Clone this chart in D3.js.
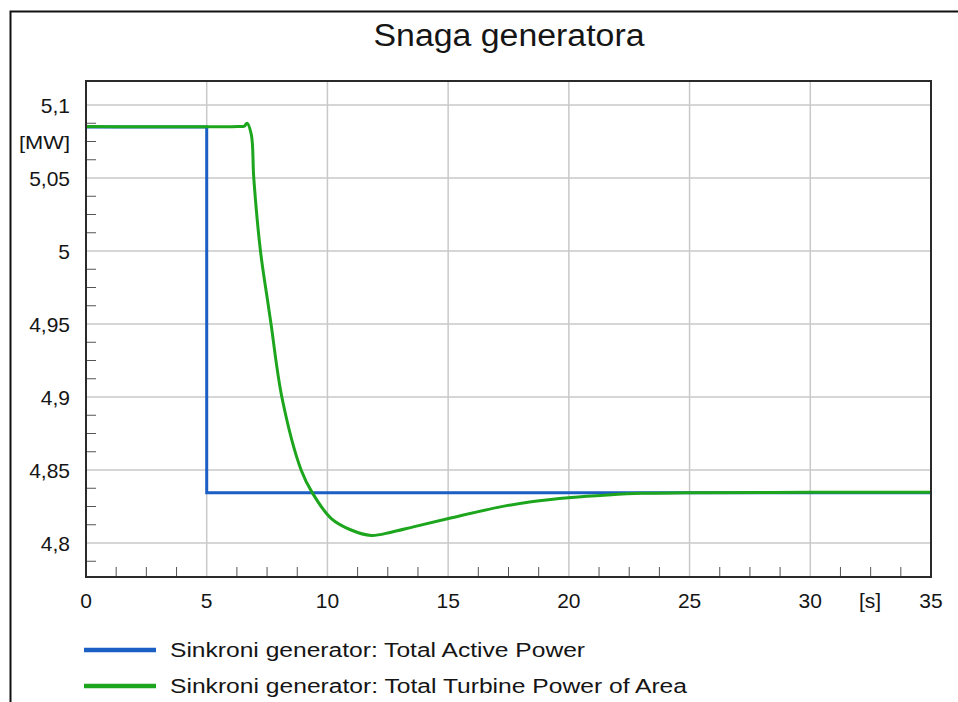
<!DOCTYPE html>
<html>
<head>
<meta charset="utf-8">
<script src="https://cdn.jsdelivr.net/npm/d3@7"></script>
<style>
  html, body { margin: 0; padding: 0; background: #fff; }
  svg { display: block; }
  text { font-family: "Liberation Sans", Arial, sans-serif; fill: #151515; }
</style>
</head>
<body>
<svg id="chart" width="958" height="702"></svg>
<script>
// Time axis [s]
const xMajorTicks = [0, 5, 10, 15, 20, 25, 30, 35];
// Power axis [MW]
const yMajorTicks = [4.8, 4.85, 4.9, 4.95, 5, 5.05, 5.1];
const yTickLabels = ["4,8", "4,85", "4,9", "4,95", "5", "5,05", "5,1"];

// Sinkroni generator: Total Active Power (step at t = 5 s)
const activeT = [0, 5, 5, 35];
const activeP = [5.085, 5.085, 4.8345, 4.8345];

// Sinkroni generator: Total Turbine Power of Area
const turbineT = [0, 6.3, 6.56, 6.67, 6.85, 6.95, 7.23, 7.53, 7.67, 8.12, 8.91, 9.37,
                  10.15, 10.98, 11.81, 12.64, 13.6, 15.06, 17.06, 18.44, 20.1, 21.62,
                  23.0, 25.08, 30, 35];
const turbineP = [5.0853, 5.0853, 5.0856, 5.0875, 5.0795, 5.0498, 4.9995, 4.9651, 4.9493,
                  4.8993, 4.85, 4.8345, 4.8169, 4.8089, 4.8052, 4.8074, 4.8112, 4.8169,
                  4.8244, 4.8283, 4.8312, 4.8329, 4.834, 4.8345, 4.8347, 4.8348];

const seriesNames = ["Sinkroni generator: Total Active Power",
                     "Sinkroni generator: Total Turbine Power of Area"];
const seriesColors = ["#1b5ec4", "#1da61d"];

const svg = d3.select("#chart");
const plot = { left: 86, top: 81, right: 931, bottom: 577 };

const x = d3.scaleLinear().domain([0, 35]).range([plot.left, plot.right]);
const y = d3.scaleLinear().domain([4.8, 5.1]).range([543, 105]);

// outer frame
svg.append("rect")
  .attr("x", 10.5).attr("y", 11.5).attr("width", 970).attr("height", 720)
  .attr("fill", "none").attr("stroke", "#111").attr("stroke-width", 2);

// title
svg.append("text")
  .attr("x", 509).attr("y", 46)
  .attr("text-anchor", "middle")
  .attr("font-size", 31)
  .attr("textLength", 271).attr("lengthAdjust", "spacingAndGlyphs")
  .text("Snaga generatora");

// grid
const grid = svg.append("g").attr("stroke", "#c9c9c9").attr("stroke-width", 1.5);
grid.selectAll("line.v").data(xMajorTicks.filter(d => d > 0 && d < 35)).join("line")
  .attr("x1", d => x(d)).attr("x2", d => x(d))
  .attr("y1", plot.top).attr("y2", plot.bottom);
grid.selectAll("line.h").data(yMajorTicks).join("line")
  .attr("x1", plot.left).attr("x2", plot.right)
  .attr("y1", d => y(d)).attr("y2", d => y(d));

// minor ticks on the inside of the left and bottom axes
const xMinor = d3.range(0, 35.001, 1.25).filter(d => d > 0 && d < 35 && Math.abs(d / 5 - Math.round(d / 5)) > 1e-6);
const yMinor = d3.range(4.775, 5.1, 0.0125)
  .filter(d => y(d) > plot.top && y(d) < plot.bottom && Math.abs(d / 0.05 - Math.round(d / 0.05)) > 1e-6);
const ticks = svg.append("g").attr("stroke", "#555").attr("stroke-width", 1);
ticks.selectAll("line.xm").data(xMinor).join("line")
  .attr("x1", d => x(d)).attr("x2", d => x(d))
  .attr("y1", plot.bottom).attr("y2", plot.bottom - 10);
ticks.selectAll("line.ym").data(yMinor).join("line")
  .attr("x1", plot.left).attr("x2", plot.left + 10)
  .attr("y1", d => y(d)).attr("y2", d => y(d));

// series
const line = d3.line().x(d => x(d[0])).y(d => y(d[1]));
svg.append("path")
  .datum(d3.zip(activeT, activeP))
  .attr("d", line.curve(d3.curveLinear))
  .attr("fill", "none").attr("stroke", seriesColors[0]).attr("stroke-width", 3);
svg.append("path")
  .datum(d3.zip(turbineT, turbineP))
  .attr("d", line.curve(d3.curveCatmullRom.alpha(0.5)))
  .attr("fill", "none").attr("stroke", seriesColors[1]).attr("stroke-width", 3)
  .attr("stroke-linejoin", "round");

// plot border
svg.append("rect")
  .attr("x", plot.left).attr("y", plot.top)
  .attr("width", plot.right - plot.left).attr("height", plot.bottom - plot.top)
  .attr("fill", "none").attr("stroke", "#2a2a2a").attr("stroke-width", 2);

// axis labels
svg.append("g").selectAll("text").data(xMajorTicks).join("text")
  .attr("x", d => x(d)).attr("y", 608)
  .attr("text-anchor", "middle").attr("font-size", 21)
  .text(d => d);
svg.append("text").attr("x", 870).attr("y", 608)
  .attr("text-anchor", "middle").attr("font-size", 21).text("[s]");

svg.append("g").selectAll("text").data(yMajorTicks).join("text")
  .attr("x", 70).attr("y", d => y(d) + 7.5)
  .attr("text-anchor", "end").attr("font-size", 21)
  .text((d, i) => yTickLabels[i]);
svg.append("text").attr("x", 70).attr("y", 149)
  .attr("text-anchor", "end").attr("font-size", 19)
  .attr("textLength", 51).attr("lengthAdjust", "spacingAndGlyphs")
  .text("[MW]");

// legend
const legendY = [650, 686];
const legendW = [415, 517];
const legend = svg.append("g");
seriesNames.forEach((name, i) => {
  legend.append("line")
    .attr("x1", 84).attr("x2", 156)
    .attr("y1", legendY[i]).attr("y2", legendY[i])
    .attr("stroke", seriesColors[i]).attr("stroke-width", 4.5);
  legend.append("text")
    .attr("x", 170).attr("y", legendY[i] + 7)
    .attr("font-size", 20)
    .attr("textLength", legendW[i]).attr("lengthAdjust", "spacingAndGlyphs")
    .text(name);
});
</script>
</body>
</html>
